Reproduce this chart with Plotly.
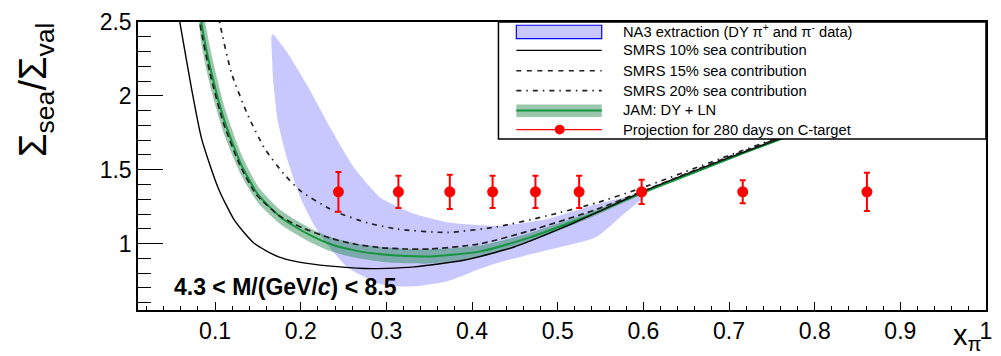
import plotly.graph_objects as go

# ---------------- data ----------------
# NA3 extraction band: upper edge (left->right) and lower edge (right->left)
na3_upper_x = [0.1677, 0.185, 0.2082, 0.2353, 0.2625, 0.2934, 0.314, 0.3322, 0.3709, 0.4289, 0.487, 0.5451, 0.6032]
na3_upper_y = [2.42, 2.287, 2.065, 1.775, 1.511, 1.308, 1.248, 1.201, 1.144, 1.12, 1.165, 1.266, 1.335]
na3_lower_x = [0.575, 0.5451, 0.487, 0.4367, 0.4095, 0.3709, 0.3322, 0.2934, 0.2547, 0.2315, 0.216, 0.2005, 0.185, 0.1734, 0.1677, 0.1655]
na3_lower_y = [1.19, 1.045, 0.955, 0.88, 0.83, 0.745, 0.71, 0.725, 0.84, 0.99, 1.12, 1.3, 1.556, 1.824, 2.114, 2.40]

# SMRS curves
sm10_x = [0.055, 0.0592, 0.0727, 0.0843, 0.1037, 0.1231, 0.1463, 0.1734, 0.1966, 0.2353, 0.2741, 0.3, 0.3322, 0.3902, 0.4483, 0.5064, 0.5451, 0.5973, 0.69, 0.78]
sm10_y = [2.63, 2.487, 2.042, 1.709, 1.375, 1.153, 0.998, 0.912, 0.876, 0.847, 0.831, 0.832, 0.842, 0.887, 0.975, 1.109, 1.209, 1.347, 1.56, 1.755]
sm15_x = [0.078, 0.0824, 0.094, 0.1095, 0.129, 0.1482, 0.1754, 0.2025, 0.2353, 0.264, 0.2934, 0.3225, 0.3515, 0.4095, 0.4676, 0.5451, 0.5973, 0.69, 0.78]
sm15_y = [2.75, 2.487, 2.153, 1.82, 1.531, 1.331, 1.187, 1.105, 1.035, 0.995, 0.972, 0.963, 0.963, 0.998, 1.087, 1.231, 1.35, 1.565, 1.76]
sm20_x = [0.100, 0.1057, 0.1192, 0.1386, 0.158, 0.1812, 0.2005, 0.2315, 0.2431, 0.278, 0.3128, 0.3709, 0.4289, 0.487, 0.5451, 0.5973, 0.69, 0.78]
sm20_y = [2.68, 2.487, 2.153, 1.865, 1.642, 1.465, 1.353, 1.242, 1.209, 1.14, 1.098, 1.075, 1.113, 1.187, 1.275, 1.375, 1.575, 1.765]

# JAM: DY + LN central curve and band
jam_x = [0.080, 0.0843, 0.0959, 0.1115, 0.1308, 0.1502, 0.1772, 0.2082, 0.2353, 0.264, 0.2934, 0.3225, 0.3515, 0.4095, 0.4676, 0.5451, 0.5973, 0.6621, 0.7201, 0.78]
jam_y = [2.75, 2.487, 2.153, 1.82, 1.531, 1.331, 1.175, 1.065, 0.995, 0.952, 0.927, 0.915, 0.913, 0.947, 1.042, 1.209, 1.34, 1.487, 1.62, 1.75]
jam_hi = [2.92, 2.637, 2.278, 1.915, 1.603, 1.387, 1.223, 1.112, 1.043, 1.001, 0.977, 0.964, 0.961, 0.987, 1.072, 1.227, 1.352, 1.495, 1.626, 1.755]
jam_lo = [2.58, 2.337, 2.028, 1.725, 1.459, 1.275, 1.127, 1.018, 0.947, 0.903, 0.877, 0.866, 0.865, 0.907, 1.012, 1.191, 1.328, 1.479, 1.614, 1.745]

# Projection for 280 days on C-target
proj_x = [0.244, 0.314, 0.374, 0.424, 0.474, 0.525, 0.598, 0.716, 0.861]
proj_y = [1.35, 1.35, 1.35, 1.35, 1.35, 1.35, 1.35, 1.35, 1.35]
proj_err = [0.134, 0.109, 0.116, 0.109, 0.109, 0.109, 0.082, 0.078, 0.13]

legend_labels = [
    "NA3 extraction (DY π<sup>+</sup> and π<sup>-</sup> data)",
    "SMRS 10% sea contribution",
    "SMRS 15% sea contribution",
    "SMRS 20% sea contribution",
    "JAM: DY + LN",
    "Projection for 280 days on C-target",
]

# ---------------- styling ----------------
W, H = 1001, 356
ML, MR, MT, MB = 138, 9, 19, 46
PW, PH = W - ML - MR, H - MT - MB
FONT = "Liberation Sans, Arial, Helvetica, sans-serif"
BLUE_FILL = "#c8c8ff"
GREEN_FILL = "rgba(30,130,70,0.45)"
GREEN_LINE = "rgb(20,150,60)"
DASH15 = "6px,4px"
DASH20 = "5px,5px,1.5px,5px"
SPL = dict(shape="spline", smoothing=0.6)


def px(xp):
    return (xp - ML) / PW


def py(yp):
    return (H - MB - yp) / PH


fig = go.Figure()

fig.add_trace(go.Scatter(
    x=na3_upper_x + na3_lower_x, y=na3_upper_y + na3_lower_y,
    fill="toself", fillcolor=BLUE_FILL, mode="lines",
    line=dict(width=0, **SPL), hoverinfo="skip"))

fig.add_trace(go.Scatter(x=jam_x, y=jam_lo, mode="lines",
                         line=dict(width=0, **SPL), hoverinfo="skip"))
fig.add_trace(go.Scatter(x=jam_x, y=jam_hi, mode="lines", fill="tonexty", fillcolor=GREEN_FILL,
                         line=dict(width=0, **SPL), hoverinfo="skip"))
fig.add_trace(go.Scatter(x=jam_x, y=jam_y, mode="lines",
                         line=dict(color=GREEN_LINE, width=2, **SPL)))

fig.add_trace(go.Scatter(x=sm10_x, y=sm10_y, mode="lines",
                         line=dict(color="black", width=1.4, **SPL)))
fig.add_trace(go.Scatter(x=sm15_x, y=sm15_y, mode="lines",
                         line=dict(color="#222", width=1.7, dash=DASH15, **SPL)))
fig.add_trace(go.Scatter(x=sm20_x, y=sm20_y, mode="lines",
                         line=dict(color="#222", width=1.7, dash=DASH20, **SPL)))

fig.add_trace(go.Scatter(
    x=proj_x, y=proj_y, mode="markers",
    marker=dict(color="red", size=11, symbol="circle"),
    error_y=dict(type="data", array=proj_err, color="red", thickness=2, width=3)))

# ---------------- legend box (drawn by hand) ----------------
shapes = []
shapes.append(dict(type="rect", xref="paper", yref="paper", x0=px(501), x1=1.0, y0=py(137.3), y1=1.0,
                   fillcolor="white", line=dict(color="black", width=1.5), layer="above"))
row_y = [28.3, 47.7, 68.3, 88.3, 108.3, 127.7]
sx0, sx1 = px(519), px(605)
# NA3
shapes.append(dict(type="rect", xref="paper", yref="paper", x0=sx0, x1=sx1, y0=py(35.7), y1=py(22.3),
                   fillcolor=BLUE_FILL, line=dict(color="blue", width=1.2), layer="above"))
# SMRS lines
shapes.append(dict(type="line", xref="paper", yref="paper", x0=sx0, x1=sx1, y0=py(row_y[1]), y1=py(row_y[1]),
                   line=dict(color="black", width=1.4), layer="above"))
shapes.append(dict(type="line", xref="paper", yref="paper", x0=sx0, x1=sx1, y0=py(row_y[2]), y1=py(row_y[2]),
                   line=dict(color="#222", width=1.6, dash="5px,5.5px"), layer="above"))
shapes.append(dict(type="line", xref="paper", yref="paper", x0=sx0, x1=sx1, y0=py(row_y[3]), y1=py(row_y[3]),
                   line=dict(color="#222", width=1.6, dash=DASH20), layer="above"))
# JAM
shapes.append(dict(type="rect", xref="paper", yref="paper", x0=sx0, x1=sx1, y0=py(115), y1=py(102.3),
                   fillcolor=GREEN_FILL, line=dict(width=0), layer="above"))
shapes.append(dict(type="line", xref="paper", yref="paper", x0=sx0, x1=sx1, y0=py(row_y[4]), y1=py(row_y[4]),
                   line=dict(color=GREEN_LINE, width=2), layer="above"))
# Projection
shapes.append(dict(type="line", xref="paper", yref="paper", x0=sx0, x1=sx1, y0=py(row_y[5]), y1=py(row_y[5]),
                   line=dict(color="red", width=1.4), layer="above"))
r = 5
shapes.append(dict(type="circle", xref="paper", yref="paper",
                   x0=px(562.7 - r), x1=px(562.7 + r), y0=py(row_y[5] + r), y1=py(row_y[5] - r),
                   fillcolor="red", line=dict(color="red", width=0), layer="above"))

annotations = []
for lab, yy in zip(legend_labels, row_y):
    annotations.append(dict(text=lab, xref="paper", yref="paper", x=px(624), y=py(yy),
                            xanchor="left", yanchor="middle", showarrow=False,
                            font=dict(family=FONT, size=14.7, color="black")))

annotations.append(dict(text="<b>4.3 &lt; M/(GeV/<i>c</i>) &lt; 8.5</b>", xref="paper", yref="paper",
                        x=px(172), y=py(287), xanchor="left", yanchor="middle", showarrow=False,
                        font=dict(family=FONT, size=23, color="black")))
annotations.append(dict(text="Σ<sub>sea</sub>/Σ<sub>val</sub>", xref="paper", yref="paper",
                        x=px(36), y=py(88), xanchor="center", yanchor="middle", textangle=-90,
                        showarrow=False, font=dict(family=FONT, size=38, color="black")))
annotations.append(dict(text="x<sub>π</sub>", xref="paper", yref="paper",
                        x=px(990), y=py(337), xanchor="right", yanchor="middle",
                        showarrow=False, font=dict(family=FONT, size=29, color="black")))

fig.update_layout(
    width=W, height=H, margin=dict(l=ML, r=MR, t=MT, b=MB),
    paper_bgcolor="white", plot_bgcolor="white", showlegend=False,
    font=dict(family=FONT, color="black"),
    shapes=shapes, annotations=annotations,
    xaxis=dict(range=[0.01, 1.0], tick0=0, dtick=0.1, ticks="inside", ticklen=8, tickwidth=1,
               tickcolor="black", showline=True, linecolor="black", linewidth=1.5, mirror=True,
               showgrid=False, zeroline=False, tickfont=dict(size=23, family=FONT),
               minor=dict(dtick=0.02, ticks="inside", ticklen=4, tickwidth=1, tickcolor="black", showgrid=False)),
    yaxis=dict(range=[0.55, 2.5], tick0=0, dtick=0.5, ticks="inside", ticklen=25, tickwidth=1,
               tickcolor="black", showline=True, linecolor="black", linewidth=1.5, mirror=True,
               showgrid=False, zeroline=False, tickfont=dict(size=23, family=FONT),
               minor=dict(dtick=0.1, ticks="inside", ticklen=13, tickwidth=1, tickcolor="black", showgrid=False)),
)

fig.write_html("out.html")
